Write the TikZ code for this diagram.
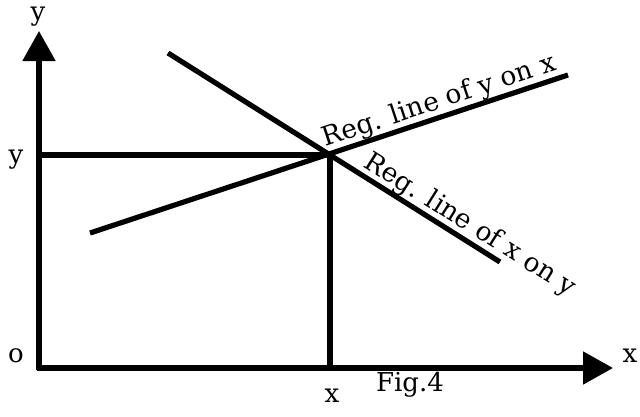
\documentclass[tikz,border=0pt]{standalone}
\usepackage{fontspec}
\setmainfont{DejaVu Serif}
\usetikzlibrary{arrows.meta}
\begin{document}
\begin{tikzpicture}[x=1pt,y=-1pt,
  ln/.style={line width=5.2pt},
  ax/.style={line width=5.2pt,-{Triangle[width=32pt,length=30pt]}},
  lbl/.style={font=\fontsize{26}{26}\selectfont,inner sep=0pt},
  rl/.style={font=\fontsize{26.5}{26.5}\selectfont,inner sep=2pt}]
\useasboundingbox (0,0) rectangle (640,416);
\coordinate (Ytip) at (39,31);
\coordinate (Xtip) at (613,368);
\coordinate (Ys) at (39,370);
\coordinate (Xs) at (37,368);
\coordinate (P) at (330,155);
\coordinate (Yp) at (37,155);
\coordinate (Xp) at (330,368);
\coordinate (A1) at (90,233);
\coordinate (A2) at (568,75);
\coordinate (B1) at (168,53);
\coordinate (B2) at (500,262);
\draw[ax] (Xs) -- (Xtip);
\draw[ax] (Ys) -- (Ytip);
\draw[ln] (Yp) -- (P) -- (Xp);
\draw[ln] (A1) -- (A2);
\draw[ln] (B1) -- (B2);
\node[lbl,anchor=base] (ly) at (38,20) {y};
\node[lbl] (lo) at (16,356) {o};
\node[lbl] (lx) at (630,356) {x};
\node[lbl] (lyp) at (16,160) {y};
\node[lbl] (lxp) at (332,396) {x};
\node[lbl] (fig) at (410,385) {Fig.4};
\path (A1) -- (A2) node[rl,pos=0.74,sloped,above] (r1) {Reg. line of y on x};
\path (B1) -- (B2) node[rl,pos=0.885,sloped,above] (r2) {Reg. line of x on y};
\end{tikzpicture}
\end{document}
